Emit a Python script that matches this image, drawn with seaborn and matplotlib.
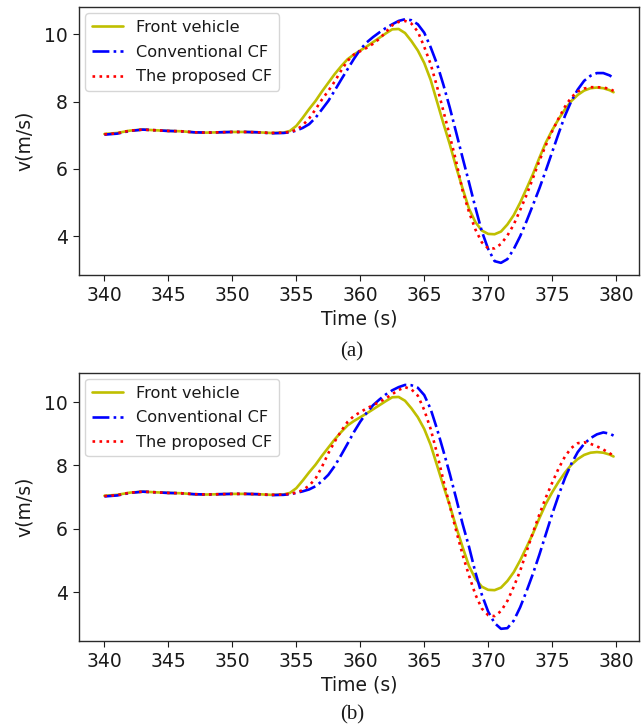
import matplotlib
matplotlib.use("Agg")
import matplotlib.pyplot as plt
import seaborn as sns
import pandas as pd

# Time axis (s): 1 s steps over the steady part, 0.5 s steps over the manoeuvre
time_steady = [340, 341, 342, 343, 344, 345, 346, 347, 348, 349, 350, 351, 352, 353]
time_dynamic = [354.0, 354.5, 355.0, 355.5, 356.0, 356.5, 357.0, 357.5, 358.0, 358.5,
                359.0, 359.5, 360.0, 360.5, 361.0, 361.5, 362.0, 362.5, 363.0, 363.5,
                364.0, 364.5, 365.0, 365.5, 366.0, 366.5, 367.0, 367.5, 368.0, 368.5,
                369.0, 369.5, 370.0, 370.5, 371.0, 371.5, 372.0, 372.5, 373.0, 373.5,
                374.0, 374.5, 375.0, 375.5, 376.0, 376.5, 377.0, 377.5, 378.0, 378.5,
                379.0, 379.5, 379.8]
time = time_steady + time_dynamic

# Front vehicle speed (m/s), identical in both scenarios
front_vehicle = [7.04, 7.07, 7.14, 7.17, 7.15, 7.13, 7.12, 7.09, 7.08, 7.09, 7.10, 7.10, 7.09, 7.07,
                 7.08, 7.13, 7.28, 7.52, 7.78, 8.02, 8.30, 8.56, 8.82, 9.05,
                 9.26, 9.40, 9.52, 9.64, 9.77, 9.90, 10.03, 10.15, 10.16, 10.04,
                 9.80, 9.52, 9.15, 8.65, 8.00, 7.35, 6.73, 6.05, 5.42, 4.82,
                 4.42, 4.17, 4.07, 4.06, 4.14, 4.35, 4.63, 5.00, 5.42, 5.85,
                 6.33, 6.78, 7.15, 7.48, 7.77, 8.02, 8.20, 8.33, 8.40, 8.42,
                 8.40, 8.34, 8.28]

# Scenario (a)
conventional_a = [7.02, 7.05, 7.13, 7.17, 7.15, 7.13, 7.12, 7.09, 7.08, 7.09, 7.10, 7.10, 7.09, 7.06,
                  7.07, 7.09, 7.14, 7.22, 7.33, 7.52, 7.77, 8.02, 8.33, 8.65,
                  8.96, 9.27, 9.55, 9.76, 9.92, 10.06, 10.19, 10.30, 10.40, 10.45,
                  10.42, 10.30, 10.05, 9.62, 9.12, 8.50, 7.82, 7.08, 6.33, 5.60,
                  4.85, 4.15, 3.62, 3.26, 3.21, 3.32, 3.62, 4.00, 4.45, 4.93,
                  5.42, 5.95, 6.50, 7.05, 7.58, 8.02, 8.36, 8.62, 8.77, 8.85,
                  8.85, 8.78, 8.70]
proposed_a = [7.03, 7.06, 7.14, 7.17, 7.15, 7.13, 7.12, 7.09, 7.08, 7.09, 7.10, 7.10, 7.09, 7.07,
              7.08, 7.10, 7.16, 7.30, 7.50, 7.77, 8.06, 8.32, 8.60, 8.92,
              9.21, 9.40, 9.50, 9.60, 9.72, 9.87, 10.07, 10.27, 10.37, 10.40,
              10.32, 10.08, 9.63, 9.12, 8.45, 7.72, 6.98, 6.22, 5.35, 4.72,
              4.20, 3.82, 3.64, 3.64, 3.77, 4.02, 4.35, 4.78, 5.23, 5.73,
              6.24, 6.70, 7.12, 7.50, 7.85, 8.13, 8.30, 8.39, 8.43, 8.43,
              8.42, 8.38, 8.32]

# Scenario (b)
conventional_b = [7.02, 7.05, 7.13, 7.17, 7.15, 7.13, 7.12, 7.09, 7.08, 7.09, 7.10, 7.10, 7.09, 7.06,
                  7.07, 7.09, 7.13, 7.18, 7.24, 7.34, 7.50, 7.70, 7.98, 8.32,
                  8.68, 9.05, 9.38, 9.66, 9.90, 10.08, 10.24, 10.37, 10.47, 10.54,
                  10.53, 10.45, 10.22, 9.78, 9.15, 8.45, 7.73, 6.95, 6.15, 5.43,
                  4.62, 3.92, 3.38, 3.02, 2.84, 2.86, 3.10, 3.52, 4.03, 4.58,
                  5.18, 5.82, 6.46, 7.05, 7.60, 8.05, 8.42, 8.68, 8.86, 8.98,
                  9.04, 9.00, 8.94]
proposed_b = [7.03, 7.06, 7.14, 7.17, 7.15, 7.13, 7.12, 7.09, 7.08, 7.09, 7.10, 7.10, 7.09, 7.07,
              7.08, 7.10, 7.14, 7.22, 7.36, 7.58, 7.95, 8.38, 8.75, 9.08,
              9.37, 9.56, 9.68, 9.80, 9.90, 10.00, 10.12, 10.25, 10.38, 10.47,
              10.40, 10.20, 9.75, 9.15, 8.38, 7.52, 6.72, 5.93, 5.18, 4.52,
              3.92, 3.48, 3.27, 3.24, 3.40, 3.72, 4.17, 4.67, 5.28, 5.88,
              6.45, 6.98, 7.45, 7.90, 8.28, 8.55, 8.70, 8.73, 8.68, 8.60,
              8.50, 8.38, 8.31]

series_labels = ["Front vehicle", "Conventional CF", "The proposed CF"]
x_ticks = [340, 345, 350, 355, 360, 365, 370, 375, 380]
y_ticks = [4, 6, 8, 10]

sns.set_style("ticks")
plt.rcParams.update({
    "font.family": ["DejaVu Sans"],
    "font.size": 13,
    "axes.edgecolor": "#2a2a2a",
    "axes.linewidth": 1.0,
    "xtick.major.size": 4.5,
    "ytick.major.size": 4.5,
    "xtick.color": "#1a1a1a",
    "ytick.color": "#1a1a1a",
    "text.color": "#1a1a1a",
    "axes.labelcolor": "#1a1a1a",
})

fig = plt.figure(figsize=(6.41, 7.27), dpi=100)
ax_a = fig.add_axes([0.1232, 0.6217, 0.8737, 0.3686])
ax_b = fig.add_axes([0.1232, 0.1183, 0.8737, 0.3690])

styles = [("#bfbf00", "-"), ("#0000ff", "-."), ("#ff0000", ":")]

for ax, conv, prop, tag, tag_y in [(ax_a, conventional_a, proposed_a, "(a)", 352),
                                   (ax_b, conventional_b, proposed_b, "(b)", 715)]:
    df = pd.DataFrame({"t": time, series_labels[0]: front_vehicle,
                       series_labels[1]: conv, series_labels[2]: prop})
    for label, (color, ls) in zip(series_labels, styles):
        sns.lineplot(data=df, x="t", y=label, ax=ax, color=color, linestyle=ls,
                     linewidth=1.9, label=label, sort=False, errorbar=None)
    ax.set_xticks(x_ticks)
    ax.set_yticks(y_ticks)
    ax.tick_params(labelsize=13.5)
    ax.set_xlabel("Time (s)", fontsize=13.5, labelpad=3)
    ax.set_ylabel("v(m/s)", fontsize=13.5, labelpad=7)
    leg = ax.legend(loc="upper left", fontsize=11.6, frameon=True, handlelength=1.95,
                    borderaxespad=0.4, labelspacing=0.6, handletextpad=0.8)
    leg.get_frame().set_edgecolor("#cccccc")
    fig.text(352 / 641, 1 - tag_y / 727, tag, ha="center", va="center",
             family="Liberation Serif", fontsize=15)

fig.savefig("out.png", dpi=100)
